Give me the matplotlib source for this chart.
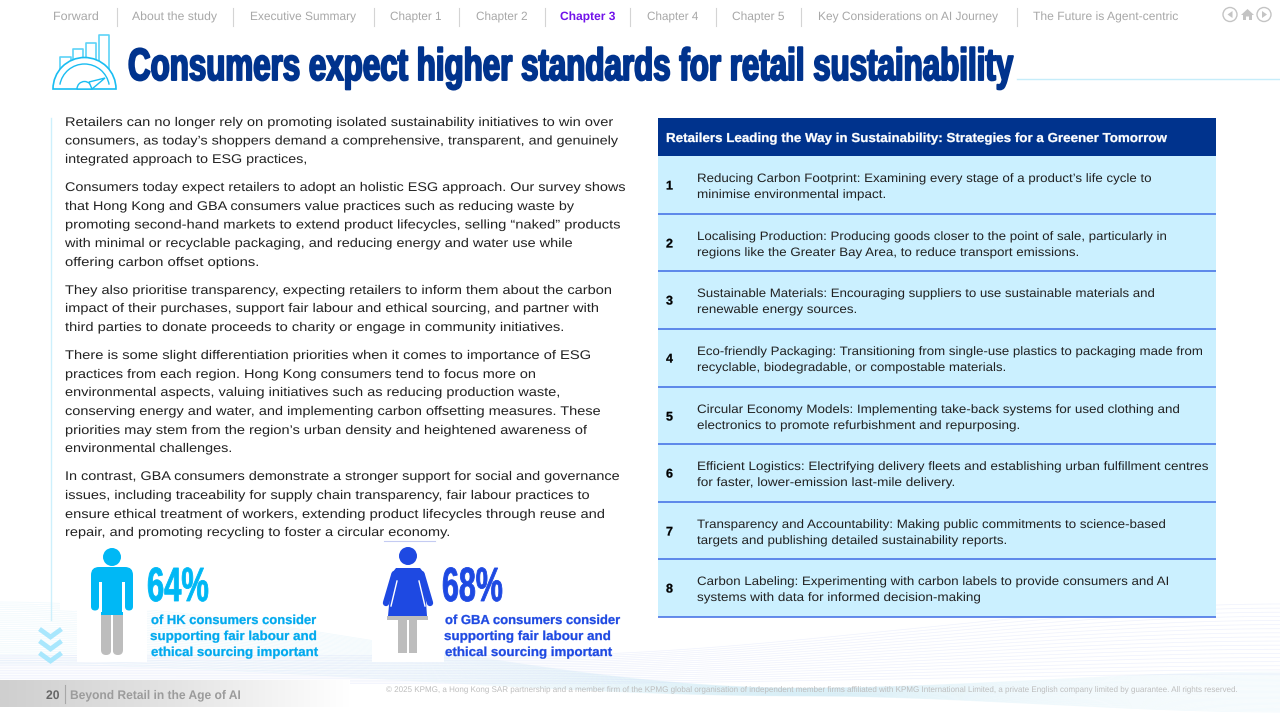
import numpy as np
import matplotlib
matplotlib.use("Agg")
import matplotlib.pyplot as plt
from matplotlib.patches import Rectangle, FancyBboxPatch, Circle, Polygon, Wedge, Arc
from matplotlib.patheffects import AbstractPathEffect
from matplotlib.transforms import Affine2D
from matplotlib.textpath import TextPath
from matplotlib.font_manager import FontProperties

NAV_LABELS = ["Forward", "About the study", "Executive Summary", "Chapter 1", "Chapter 2", "Chapter 3",
              "Chapter 4", "Chapter 5", "Key Considerations on AI Journey", "The Future is Agent-centric"]
NAV_SPANS = [(53, 98), (132, 217), (250, 356), (390, 441), (476, 527), (560, 615),
             (647, 698), (732, 784), (818, 998), (1033, 1178)]
NAV_SEPS = [117, 233, 374, 459, 545, 630, 716, 801, 1017]
TITLE = "Consumers expect higher standards for retail sustainability"

BODY = [
    ("Retailers can no longer rely on promoting isolated sustainability initiatives to win over", 126, 613),
    ("consumers, as today\u2019s shoppers demand a comprehensive, transparent, and genuinely", 144.5, 618),
    ("integrated approach to ESG practices,", 163, 306),
    ("Consumers today expect retailers to adopt an holistic ESG approach. Our survey shows", 191, 625),
    ("that Hong Kong and GBA consumers value practices such as reducing waste by", 210, 574),
    ("promoting second-hand markets to extend product lifecycles, selling \u201cnaked\u201d products", 228.5, 620),
    ("with minimal or recyclable packaging, and reducing energy and water use while", 247, 572),
    ("offering carbon offset options.", 266, 258),
    ("They also prioritise transparency, expecting retailers to inform them about the carbon", 294, 611),
    ("impact of their purchases, support fair labour and ethical sourcing, and partner with", 312, 598),
    ("third parties to donate proceeds to charity or engage in community initiatives.", 331, 563),
    ("There is some slight differentiation priorities when it comes to importance of ESG", 359, 590),
    ("practices from each region. Hong Kong consumers tend to focus more on", 378, 535),
    ("environmental aspects, valuing initiatives such as reducing production waste,", 396, 559),
    ("conserving energy and water, and implementing carbon offsetting measures. These", 415, 600),
    ("priorities may stem from the region\u2019s urban density and heightened awareness of", 434, 587),
    ("environmental challenges.", 452, 231),
    ("In contrast, GBA consumers demonstrate a stronger support for social and governance", 480, 619),
    ("issues, including traceability for supply chain transparency, fair labour practices to", 499, 589),
    ("ensure ethical treatment of workers, extending product lifecycles through reuse and", 518, 604),
    ("repair, and promoting recycling to foster a circular economy.", 536, 449),
]

TABLE_TITLE = "Retailers Leading the Way in Sustainability: Strategies for a Greener Tomorrow"
ROW_EDGES = [156, 214, 271, 329, 387, 444, 502, 559, 617]
ROWS = [
    ("Reducing Carbon Footprint: Examining every stage of a product\u2019s life cycle to", 1151,
     "minimise environmental impact.", 885),
    ("Localising Production: Producing goods closer to the point of sale, particularly in", 1166,
     "regions like the Greater Bay Area, to reduce transport emissions.", 1078),
    ("Sustainable Materials: Encouraging suppliers to use sustainable materials and", 1154,
     "renewable energy sources.", 856),
    ("Eco-friendly Packaging: Transitioning from single-use plastics to packaging made from", 1202,
     "recyclable, biodegradable, or compostable materials.", 1005),
    ("Circular Economy Models: Implementing take-back systems for used clothing and", 1179,
     "electronics to promote refurbishment and repurposing.", 1019),
    ("Efficient Logistics: Electrifying delivery fleets and establishing urban fulfillment centres", 1208,
     "for faster, lower-emission last-mile delivery.", 954),
    ("Transparency and Accountability: Making public commitments to science-based", 1165,
     "targets and publishing detailed sustainability reports.", 1006),
    ("Carbon Labeling: Experimenting with carbon labels to provide consumers and AI", 1168,
     "systems with data for informed decision-making", 980),
]

HK_PCT = "64%"
GBA_PCT = "68%"
HK_LINES = [("of HK consumers consider", 151, 316), ("supporting fair labour and", 150, 316),
            ("ethical sourcing important", 151, 318)]
GBA_LINES = [("of GBA consumers consider", 445, 620), ("supporting fair labour and", 444, 610),
             ("ethical sourcing important", 445, 612)]
COPYRIGHT = ("\u00a9 2025 KPMG, a Hong Kong SAR partnership and a member firm of the KPMG global organisation of "
             "independent member firms affiliated with KPMG International Limited, a private English company "
             "limited by guarantee. All rights reserved.")

NAVY, CYAN, BLUE, PALE = "#00338D", "#00B8F5", "#1E49E2", "#CBF0FF"
SANS = "Liberation Sans"

fig = plt.figure(figsize=(12.8, 7.2), dpi=100, facecolor="white")
ax = fig.add_axes([0, 0, 1, 1])
ax.axis("off")


class Stretch(AbstractPathEffect):
    """Scale glyph outlines about the text origin; keeps text as real Text artists."""
    def __init__(self, sx=1.0, sy=1.0, stroke=0.0):
        super().__init__()
        self.sx, self.sy, self.stroke = sx, sy, stroke

    def draw_path(self, renderer, gc, tpath, affine, rgbFace=None):
        aff = Affine2D().scale(self.sx, self.sy) + affine
        gc0 = renderer.new_gc()
        gc0.copy_properties(gc)
        if self.stroke > 0 and rgbFace is not None:
            gc0.set_foreground(rgbFace[:3])
            gc0.set_linewidth(self.stroke)
            gc0.set_joinstyle("round")
        else:
            gc0.set_linewidth(0)
        renderer.draw_path(gc0, tpath, aff, rgbFace)
        gc0.restore()


def T(s, x0, y, px, x1=None, color="black", weight="normal", family=SANS, sy=1.0, stroke=0.0, z=10):
    t = ax.text(x0, y, s, fontsize=px * 0.72, color=color, fontweight=weight, family=family,
                ha="left", va="baseline", zorder=z)
    sx = 1.0
    if x1 is not None:
        prop = FontProperties(family=family, weight=weight)
        w = TextPath((0, 0), s, size=px, prop=prop).get_extents().x1
        sx = (x1 - x0) / max(w, 1)
    t.set_path_effects([Stretch(sx, sy, stroke)])
    return t


# ---- background waves (decorative)
xs = np.linspace(0, 1280, 400)
def smooth(u):
    u = np.clip(u, 0, 1)
    return u * u * (3 - 2 * u)
for f in np.linspace(0, 1, 34):
    y_left = 602 + 62 * f
    yc = 688 + 8 * f
    y_right = 672 + 40 * f
    y = y_left + (yc - y_left) * smooth(xs / 800) + (y_right - yc) * smooth((xs - 800) / 480)
    ax.plot(xs, y, color="#A9DDF2", lw=0.5, alpha=0.18, zorder=1)
for f in np.linspace(0, 1, 18):
    y = 604 + 70 * f + (690 - 604 - 70 * f) * smooth((1280 - xs) / 760) * 0.6
    ax.plot(xs, y, color="#C9D2F6", lw=0.5, alpha=0.3, zorder=1)
ax.add_patch(Rectangle((77, 600), 70, 62, fc="white", ec="none", zorder=2))
ax.add_patch(Rectangle((372, 590), 72, 72, fc="white", ec="none", zorder=2))
ax.add_patch(Rectangle((60, 540), 600, 70, fc="white", ec="none", zorder=2))

# ---- navigation
for s, (a, b), in zip(NAV_LABELS, NAV_SPANS):
    active = s == "Chapter 3"
    T(s, a, 20, 12, b, color="#7213EA" if active else "#A8A8A8", weight="bold" if active else "normal")
for x in NAV_SEPS:
    ax.plot([x, x], [8, 26], color="#D4D4D4", lw=0.8, zorder=5)
for cx in (1230, 1264):
    ax.add_patch(Circle((cx, 14.5), 7, fc="white", ec="#C4C4C4", lw=1.0, zorder=5))
ax.add_patch(Polygon([(1232.5, 11), (1232.5, 18), (1227.5, 14.5)], fc="#C4C4C4", ec="none", zorder=6))
ax.add_patch(Polygon([(1262, 11), (1262, 18), (1267, 14.5)], fc="#C4C4C4", ec="none", zorder=6))
ax.add_patch(Polygon([(1241, 15), (1247.5, 9), (1254, 15), (1252, 15), (1252, 20), (1249, 20), (1249, 16.5),
                      (1246, 16.5), (1246, 20), (1243, 20), (1243, 15)], fc="#C4C4C4", ec="none", zorder=6))

# ---- icon
ICON = "#19BDF2"
for x0, x1, top in [(60, 71, 57), (73, 83, 49), (86, 96, 43), (99, 109, 35)]:
    ax.plot([x0, x0, x1, x1], [70, top, top, 70], color="#5ED3F7", lw=1.2, zorder=5)
ax.add_patch(Wedge((84.5, 89), 31.5, 180, 360, fc="white", ec=ICON, lw=1.2, zorder=6))
ax.add_patch(Arc((84.5, 89), 50, 50, theta1=190, theta2=350, color=ICON, lw=1, zorder=7))
ax.add_patch(Wedge((84.5, 89), 7.5, 180, 360, fc="white", ec=ICON, lw=1, zorder=7))
ax.add_patch(Polygon([(92, 89), (105, 78), (89, 82)], fc="white", ec=ICON, lw=1, zorder=8))

# ---- title
T(TITLE, 128, 80, 26, 1013, color=NAVY, weight="bold", sy=1.74, stroke=1.4)
ax.plot([1017, 1280], [79, 79], color="#C6EDFA", lw=1, zorder=5)

# ---- left column
ax.plot([51, 51], [118, 620], color="#CDF0FC", lw=1.0, zorder=5)
for s, y, x1 in BODY:
    T(s, 65, y, 12.6, x1, color="#222222")
ax.plot([384, 435], [540.5, 540.5], color="#C4CBF2", lw=0.8, zorder=5)
for top in (629, 641, 653):
    ax.plot([39.5, 50.5, 61.5], [top, top + 8, top], color="#A9E7FD", lw=3.4, zorder=5,
            solid_capstyle="butt", solid_joinstyle="miter")

# ---- table
ax.add_patch(Rectangle((658, 118), 558, 38, fc=NAVY, ec="none", zorder=5))
T(TABLE_TITLE, 666, 142, 13, 1167, color="white", weight="bold", stroke=0.2)
ax.add_patch(Rectangle((658, 156), 558, 461, fc=PALE, ec="none", zorder=4))
for e in ROW_EDGES[1:]:
    ax.plot([658, 1216], [e, e], color="#3F6BE4", lw=1.1, zorder=6, solid_capstyle="butt")
for i, (a, xa, b, xb) in enumerate(ROWS):
    top, bot = ROW_EDGES[i], ROW_EDGES[i + 1]
    T(str(i + 1), 666, top + 33.5, 12.5, color="black", weight="bold", stroke=0.2)
    T(a, 697, top + 26, 12.2, xa, color="#222222")
    T(b, 697, top + 42, 12.2, xb, color="#222222")

# ---- HK person
GREY = "#BDBDBD"
def rrect(x, y, w, h, r, c, z=6):
    ax.add_patch(FancyBboxPatch((x + r, y + r), w - 2 * r, h - 2 * r, boxstyle=f"round,pad={r}",
                                fc=c, ec="none", zorder=z))
ax.add_patch(Circle((112, 557), 9, fc=CYAN, ec="none", zorder=6))
rrect(101, 600, 10.2, 55, 5, GREY)
rrect(112.8, 600, 10.2, 55, 5, GREY)
rrect(91, 567, 42, 30, 8, CYAN)
rrect(91, 575, 8, 35.5, 4, CYAN)
rrect(125, 575, 8, 35.5, 4, CYAN)
ax.add_patch(Rectangle((101, 575), 22, 40, fc=CYAN, ec="none", zorder=6))
ax.add_patch(Rectangle((99, 582), 2.6, 30, fc="white", ec="none", zorder=7))
ax.add_patch(Rectangle((122.4, 582), 2.6, 30, fc="white", ec="none", zorder=7))
ax.add_patch(Rectangle((111.2, 615), 1.6, 40, fc="white", ec="none", zorder=7))
T(HK_PCT, 147, 601, 30, 208, color=CYAN, weight="bold", sy=1.6, stroke=0.6)
for (s, a, b), y in zip(HK_LINES, (624, 640, 656)):
    T(s, a, y, 13, b, color="#00A9EE", weight="bold", stroke=0.2)

# ---- GBA person
ax.add_patch(Circle((408, 556), 9, fc=BLUE, ec="none", zorder=6))
ax.add_patch(Rectangle((398, 618), 9, 35, fc=GREY, ec="none", zorder=6))
ax.add_patch(Rectangle((409, 618), 8, 35, fc=GREY, ec="none", zorder=6))
ax.add_patch(Polygon([(387, 616), (428, 616), (428, 620), (387, 620)], fc=GREY, ec="none", zorder=6))
ax.plot([394.5, 386], [574, 603], color=BLUE, lw=4.6, solid_capstyle="round", zorder=7)
ax.plot([421.5, 430], [574, 603], color=BLUE, lw=4.6, solid_capstyle="round", zorder=7)
ax.add_patch(Polygon([(396, 568), (420, 568), (424, 573), (427, 616), (388, 616), (392, 573)],
                     fc=BLUE, ec="none", zorder=8, joinstyle="round"))
ax.plot([397, 391], [581, 606], color="white", lw=1, zorder=9)
ax.plot([419, 425], [581, 606], color="white", lw=1, zorder=9)
T(GBA_PCT, 442, 601, 30, 502, color=BLUE, weight="bold", sy=1.6, stroke=0.6)
for (s, a, b), y in zip(GBA_LINES, (624, 640, 656)):
    T(s, a, y, 13, b, color=BLUE, weight="bold", stroke=0.2)

# ---- footer
grad = np.linspace(0, 1, 256).reshape(1, -1)
ax.imshow(grad, extent=(0, 350, 707, 680), cmap=matplotlib.colors.LinearSegmentedColormap.from_list(
    "f", ["#CFCFCF", "#E4E4E4", "#FFFFFF"]), aspect="auto", zorder=3)
T("20", 46, 699, 12.5, 59, color="#666666", weight="bold")
ax.plot([65, 65], [685, 703], color="#A8A8A8", lw=0.8, zorder=5)
T("Beyond Retail in the Age of AI", 70, 699, 12.5, 240, color="#9C9C9C", weight="bold")
T(COPYRIGHT, 386, 692, 8.2, 1237, color="#BDBDBD")

ax.set_xlim(0, 1280)
ax.set_ylim(720, 0)
fig.savefig("out.png", dpi=100)
